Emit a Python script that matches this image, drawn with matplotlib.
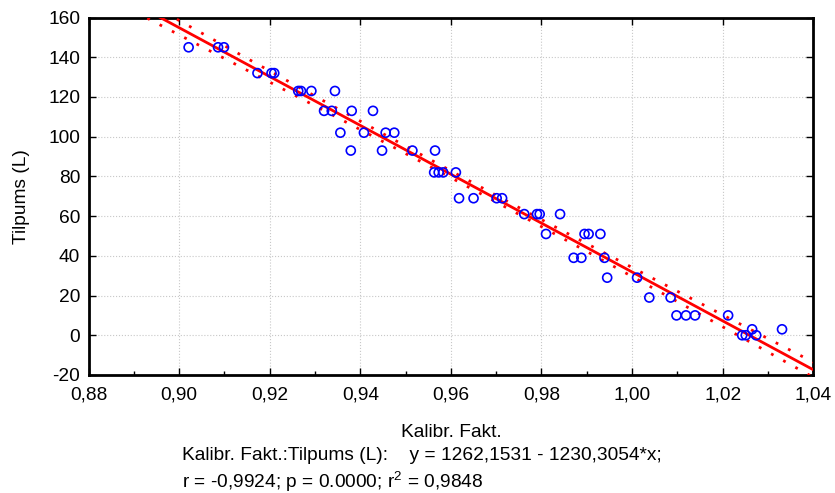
import numpy as np
import matplotlib
matplotlib.use('Agg')
import matplotlib.pyplot as plt
from matplotlib.ticker import MultipleLocator, FuncFormatter

plt.rcParams['font.family'] = ['Liberation Sans', 'DejaVu Sans']
plt.rcParams['axes.unicode_minus'] = False

# Kalibr. Fakt. (x) and Tilpums (L) (y)
kalibr = [0.9021, 0.9086, 0.9099,
          0.9173, 0.9204, 0.9210,
          0.9263, 0.9269, 0.9292, 0.9344,
          0.9320, 0.9337, 0.9381, 0.9428,
          0.9356, 0.9408, 0.9456, 0.9475,
          0.9379, 0.9448, 0.9515, 0.9565,
          0.9563, 0.9573, 0.9583, 0.9611,
          0.9618, 0.9650, 0.9701, 0.9713,
          0.9762, 0.9790, 0.9796, 0.9841,
          0.9810, 0.9895, 0.9904, 0.9930,
          0.9871, 0.9888, 0.9939,
          0.9945, 1.0011,
          1.0038, 1.0085,
          1.0098, 1.0119, 1.0139, 1.0212,
          1.0243, 1.0251, 1.0274,
          1.0265, 1.0331]
tilpums = [145, 145, 145,
           132, 132, 132,
           123, 123, 123, 123,
           113, 113, 113, 113,
           102, 102, 102, 102,
           93, 93, 93, 93,
           82, 82, 82, 82,
           69, 69, 69, 69,
           61, 61, 61, 61,
           51, 51, 51, 51,
           39, 39, 39,
           29, 29,
           19, 19,
           10, 10, 10, 10,
           0, 0, 0,
           3, 3]

intercept = 1262.1531
slope = -1230.3054

xticks = [0.88, 0.90, 0.92, 0.94, 0.96, 0.98, 1.00, 1.02, 1.04]
yticks = [-20, 0, 20, 40, 60, 80, 100, 120, 140, 160]

x = np.array(kalibr)
y = np.array(tilpums)
n = len(x)

# regression line and 95% confidence band of the mean
xs = np.linspace(0.88, 1.04, 200)
ys = intercept + slope * xs
resid = y - (intercept + slope * x)
s = np.sqrt(np.sum(resid ** 2) / (n - 2))
sxx = np.sum((x - x.mean()) ** 2)
se = s * np.sqrt(1.0 / n + (xs - x.mean()) ** 2 / sxx)
band = 2.003 * se

fig = plt.figure(figsize=(8.35, 4.93), dpi=100)
ax = fig.add_axes([0.106, 0.2394, 0.868, 0.7251])

ax.plot(xs, ys, color='#ff0000', lw=2, zorder=3)
ax.plot(xs, ys + band, color='#ff0000', lw=2, ls=(0, (1, 4)), zorder=3)
ax.plot(xs, ys - band, color='#ff0000', lw=2, ls=(0, (1, 4)), zorder=3)
ax.scatter(x, y, s=42, facecolors='none', edgecolors='#0000ff', linewidths=1.2, zorder=4)

ax.set_xlim(0.88, 1.04)
ax.set_ylim(-20, 160)
ax.set_xticks(xticks)
ax.set_yticks(yticks)
ax.xaxis.set_minor_locator(MultipleLocator(0.01))
ax.xaxis.set_major_formatter(FuncFormatter(lambda v, p: f"{v:.2f}".replace('.', ',')))
ax.grid(True, which='major', color='#c8c8c8', ls=':', lw=0.8)
ax.set_axisbelow(True)

ax.tick_params(which='major', direction='in', length=5, width=1, top=True, right=True,
               labelsize=13.8)
ax.tick_params(axis='x', which='major', pad=8)
ax.tick_params(axis='y', which='major', pad=6)
ax.tick_params(which='minor', direction='in', length=3, width=1, top=False, right=False)
for sp in ax.spines.values():
    sp.set_linewidth(2)

ax.set_xlabel('Kalibr. Fakt.', fontsize=13.8, labelpad=15)
ax.set_ylabel('Tilpums (L)', fontsize=13.8, labelpad=13)

fig.text(0.218, 0.077, 'Kalibr. Fakt.:Tilpums (L):    y = 1262,1531 - 1230,3054*x;',
         fontsize=13.8, ha='left', va='center')
fig.text(0.218, 0.023, r'r = -0,9924; p = 0.0000; r$\mathregular{^2}$ = 0,9848',
         fontsize=13.8, ha='left', va='center')

fig.savefig('out.png', dpi=100)
